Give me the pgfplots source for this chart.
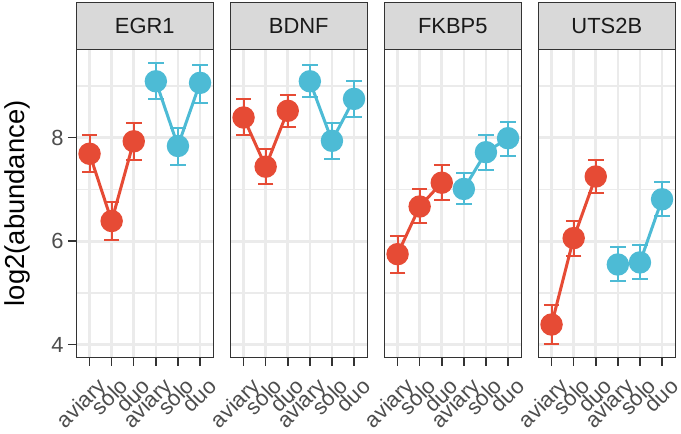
\documentclass[border=0pt]{standalone}
\usepackage{fontspec}
\setmainfont{Liberation Sans}
\usepackage{pgfplots}
\usepackage{pgfplotstable}
\pgfplotsset{compat=1.18}

\definecolor{npgred}{HTML}{E64B35}
\definecolor{npgblue}{HTML}{4DBBD5}
\definecolor{grey92}{HTML}{EBEBEB}
\definecolor{grey85}{HTML}{D9D9D9}
\definecolor{grey30}{HTML}{4D4D4D}
\definecolor{grey20}{HTML}{333333}
\definecolor{grey10}{HTML}{1A1A1A}

% mean with lower / upper end of the error bar
\pgfplotstableread{
x y lo hi
1 7.69 7.33 8.05
2 6.39 6.02 6.76
3 7.93 7.56 8.28
}\egrred
\pgfplotstableread{
x y lo hi
4 9.09 8.75 9.45
5 7.84 7.48 8.19
6 9.06 8.68 9.40
}\egrblue
\pgfplotstableread{
x y lo hi
1 8.39 8.05 8.74
2 7.44 7.10 7.78
3 8.52 8.21 8.83
}\bdnfred
\pgfplotstableread{
x y lo hi
4 9.09 8.78 9.40
5 7.94 7.59 8.28
6 8.75 8.40 9.09
}\bdnfblue
\pgfplotstableread{
x y lo hi
1 5.75 5.38 6.11
2 6.67 6.36 7.01
3 7.13 6.80 7.47
}\fkbred
\pgfplotstableread{
x y lo hi
4 7.01 6.71 7.31
5 7.72 7.38 8.05
6 7.99 7.65 8.30
}\fkbblue
\pgfplotstableread{
x y lo hi
1 4.39 4.02 4.76
2 6.06 5.72 6.40
3 7.25 6.94 7.56
}\utsred
\pgfplotstableread{
x y lo hi
4 5.55 5.24 5.89
5 5.59 5.27 5.93
6 6.81 6.48 7.15
}\utsblue

\newcommand{\ticksize}{\fontsize{22}{22}\selectfont}

\pgfplotsset{
  facet/.style={
    scale only axis, width=137bp, height=308bp, anchor=south west,
    xmin=0.4, xmax=6.6, ymin=3.757, ymax=9.708,
    xtick={1,...,6}, xticklabels={aviary,solo,duo,aviary,solo,duo},
    ytick={4,6,8}, minor ytick={5,7,9},
    /pgf/number format/assume math mode=true,
    grid=both,
    major grid style={grey92, line width=2.6bp},
    minor grid style={grey92, line width=1.5bp},
    tick align=outside, tick pos=left,
    major tick length=8.5bp, minor tick length=0pt,
    tick style={grey20, line width=1.5bp},
    axis line style={grey20, line width=1.4bp},
    xticklabel style={rotate=45, anchor=north east, font=\ticksize, text=grey30, inner sep=0pt, xshift=-3bp, yshift=-12bp},
    yticklabel style={font=\ticksize, text=grey30, inner sep=0pt, xshift=-4bp},
    clip=false,
  },
  grp/.style={color=#1, line width=3bp, mark=*, mark size=9.7bp,
    mark options={solid, fill=#1, draw=none},
    error bars/y dir=both, error bars/y explicit,
    error bars/error bar style={line width=2bp, #1},
    error bars/error mark options={rotate=90, mark size=7.8bp, line width=2bp, #1}},
}

\newcommand{\series}[2]{%
  \addplot[grp=#2] table[x=x, y=y,
    y error plus expr=\thisrow{hi}-\thisrow{y},
    y error minus expr=\thisrow{y}-\thisrow{lo}] {#1};}

\newcommand{\strip}[2]{%
  \draw[grey20, line width=1.4bp, fill=grey85] (#1.north west) rectangle ([yshift=46.6bp]#1.north east);
  \node[font=\ticksize, text=grey10] at ([yshift=23.3bp]#1.north) {#2};}

\begin{document}
\begin{tikzpicture}
\useasboundingbox (0,0) rectangle (681bp,434bp);

\begin{axis}[facet, name=p1, at={(76.3bp,76.7bp)},
  ylabel={log2(abundance)},
  y label style={at={(axis description cs:-0.4307,0.5)}, anchor=center, font=\fontsize{27.5}{27.5}\selectfont}]
\series{\egrred}{npgred}
\series{\egrblue}{npgblue}
\end{axis}
\strip{p1}{EGR1}

\begin{axis}[facet, name=p2, at={(230.3bp,76.7bp)}, yticklabels={}, y tick style={draw=none}]
\series{\bdnfred}{npgred}
\series{\bdnfblue}{npgblue}
\end{axis}
\strip{p2}{BDNF}

\begin{axis}[facet, name=p3, at={(384.3bp,76.7bp)}, yticklabels={}, y tick style={draw=none}]
\series{\fkbred}{npgred}
\series{\fkbblue}{npgblue}
\end{axis}
\strip{p3}{FKBP5}

\begin{axis}[facet, name=p4, at={(538.3bp,76.7bp)}, yticklabels={}, y tick style={draw=none}]
\series{\utsred}{npgred}
\series{\utsblue}{npgblue}
\end{axis}
\strip{p4}{UTS2B}
\end{tikzpicture}
\end{document}
